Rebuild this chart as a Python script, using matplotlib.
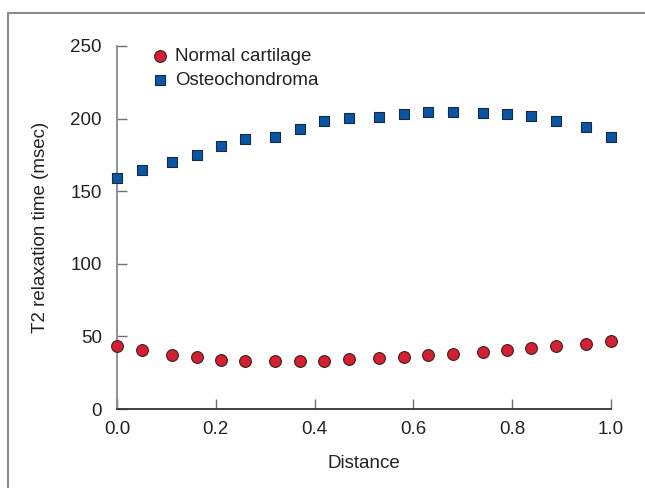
import matplotlib
matplotlib.use("Agg")
import matplotlib.pyplot as plt
from matplotlib.patches import Rectangle

distance = [0.0, 0.051, 0.111, 0.161, 0.210, 0.259, 0.319, 0.371, 0.420, 0.470,
            0.530, 0.580, 0.630, 0.681, 0.740, 0.790, 0.839, 0.888, 0.950, 1.0]
normal_cartilage = [43.1, 40.6, 37.4, 35.8, 33.5, 32.8, 32.8, 32.8, 33.3, 34.4,
                    34.9, 36.0, 36.9, 38.1, 39.2, 40.4, 41.7, 43.6, 44.5, 46.8]
osteochondroma = [159.4, 164.7, 170.0, 175.2, 181.4, 185.8, 187.6, 193.1, 198.4, 200.5,
                  201.4, 203.2, 204.4, 204.6, 204.1, 203.2, 201.6, 198.6, 194.3, 187.6]
x_ticks = [0.0, 0.2, 0.4, 0.6, 0.8, 1.0]
y_ticks = [0, 50, 100, 150, 200, 250]

plt.rcParams['font.family'] = ['Liberation Sans', 'DejaVu Sans']

W, H = 645, 488
fig = plt.figure(figsize=(W / 100, H / 100), dpi=100)
fig.patches.append(Rectangle((8 / W, -0.1), 1.2, 1 - 13 / H + 0.1, transform=fig.transFigure,
                             fill=False, edgecolor='#8a8a8a', linewidth=1.5))

ax = fig.add_axes([117 / W, 1 - 409 / H, (611 - 117) / W, (409 - 46) / H])
ax.scatter(distance, normal_cartilage, s=72, marker='o', color='#d42030',
           edgecolors='#3a2020', linewidths=0.8, label='Normal cartilage', zorder=3, clip_on=False)
ax.scatter(distance, osteochondroma, s=52, marker='s', color='#0a55a5',
           edgecolors='#1a2a40', linewidths=0.8, label='Osteochondroma', zorder=3, clip_on=False)

ax.set_xlim(0, 1.0)
ax.set_ylim(0, 250)
ax.set_xticks(x_ticks)
ax.set_xticklabels([f"{v:.1f}" for v in x_ticks])
ax.set_yticks(y_ticks)
ax.set_yticklabels([str(v) for v in y_ticks])
for s in ['top', 'right']:
    ax.spines[s].set_visible(False)
ax.spines['left'].set_color('#8a8a8a')
ax.spines['left'].set_linewidth(1.3)
ax.spines['bottom'].set_color('#333333')
ax.spines['bottom'].set_linewidth(1.3)
ax.tick_params(direction='in', length=7, width=1, color='#707070', labelsize=13.5,
               labelcolor='#222222')
ax.tick_params(axis='x', pad=9)
ax.tick_params(axis='y', pad=11)
ax.set_xlabel('Distance', fontsize=13.5, color='#222222', labelpad=12)
ax.set_ylabel('T2 relaxation time (msec)', fontsize=13.5, color='#222222', labelpad=15)

leg = ax.legend(loc='upper left', bbox_to_anchor=(0.045, 1.015), frameon=False, fontsize=13.5,
                handletextpad=0.1, labelspacing=0.35, borderaxespad=0, scatterpoints=1,
                labelcolor='#222222', handlelength=1.4)

fig.savefig('out.png', dpi=100)
